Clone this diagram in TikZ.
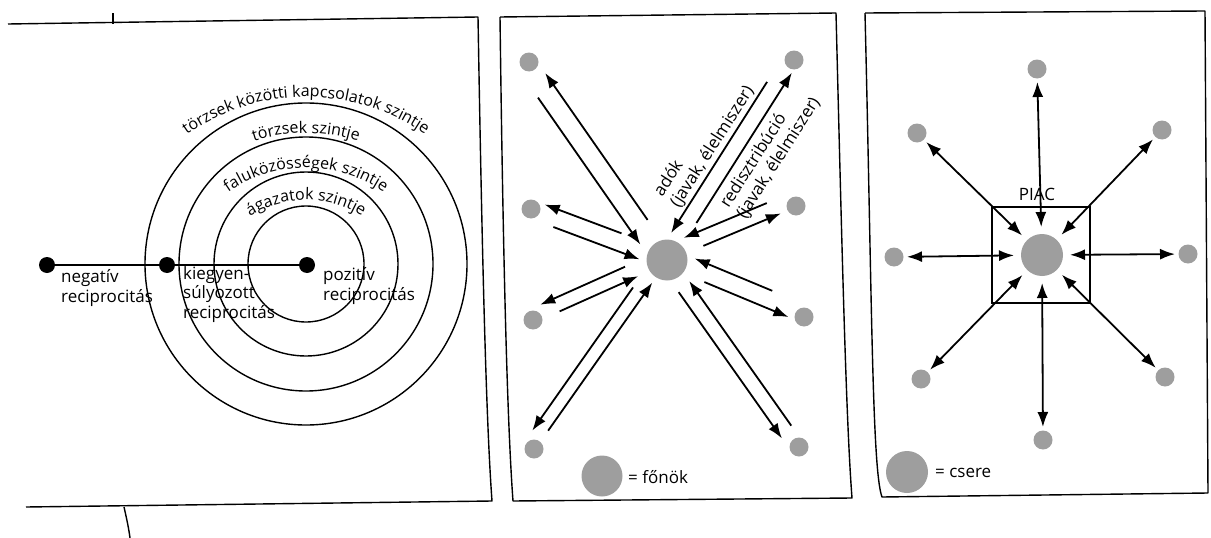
\documentclass[tikz,border=0pt]{standalone}
\usepackage{fontspec}
\setmainfont{Open Sans}
\usetikzlibrary{arrows.meta,calc,decorations.text}
\definecolor{dotgray}{gray}{0.62}
\newcommand\lblfont{\fontsize{17}{19.5}\selectfont}
\newcommand\arcfont{\fontsize{16}{19}\selectfont}
\begin{document}
\begin{tikzpicture}[x=1pt,y=-1pt,
  panel/.style={line width=1.4pt, line join=round},
  ringline/.style={line width=1.4pt},
  blackdot/.style={circle, fill=black, inner sep=0pt, minimum size=16pt},
  sdot/.style={circle, fill=dotgray, inner sep=0pt, minimum size=19pt},
  chiefdot/.style={circle, fill=dotgray, inner sep=0pt, minimum size=41pt},
  arr/.style={line width=1.8pt, -{Latex[length=15pt,width=11pt]}},
  darr/.style={line width=1.8pt, {Latex[length=15pt,width=11pt]}-{Latex[length=15pt,width=11pt]}},
  lbl/.style={font=\lblfont, inner sep=0pt, align=left},
  arctext/.style={decorate, decoration={text along path, text align=center, text={|\arcfont|#1}}},
]
\useasboundingbox (0,0) rectangle (1211,538);

% ---------------- left panel ----------------
\draw[panel] (8,24) -- (478,17) .. controls (482,250) and (486,420) .. (492,501) -- (26,507);
\draw[panel] (113,13) -- (113,24);
\draw[panel] (124,507) .. controls (127,520) and (129,530) .. (130,538);

\coordinate (ctr) at (306,264);
\coordinate (tctr) at (306,304);
\foreach \r in {58,92,127,161} \draw[ringline] (ctr) circle[radius=\r pt];

\path[arctext={ágazatok szintje}] ($(tctr)+(170:104pt)$) arc[start angle=170, end angle=10, radius=104pt];
\path[arctext={faluközösségek szintje}] ($(tctr)+(170:136pt)$) arc[start angle=170, end angle=10, radius=136pt];
\path[arctext={törzsek szintje}] ($(tctr)+(170:171pt)$) arc[start angle=170, end angle=10, radius=171pt];
\path[arctext={törzsek közötti kapcsolatok szintje}] ($(tctr)+(170:207pt)$) arc[start angle=170, end angle=10, radius=207pt];

\node[blackdot] (neg) at (47,265) {};
\node[blackdot] (bal) at (167,265) {};
\node[blackdot] (pos) at (307,265) {};
\draw[line width=1.9pt] (neg) -- (bal) -- (pos);

\node[lbl, anchor=base west] (negl) at (61,302) {negatív\\reciprocitás};
\node[lbl, anchor=base west] (ball) at (183,318) {kiegyen-\\súlyozott\\reciprocitás};
\node[lbl, anchor=base west] (posl) at (323,300) {pozitív\\reciprocitás};

% ---------------- middle panel ----------------
\draw[panel] (500,17) -- (836,13) .. controls (842,250) and (846,420) .. (852,498) -- (513,501) .. controls (507,420) and (503,250) .. (500,17);

\node[chiefdot] (chief) at (667,260) {};
\node[sdot] (tl) at (529,62) {};
\node[sdot] (tr) at (794,60) {};
\node[sdot] (ml) at (531,209) {};
\node[sdot] (mr) at (796,206) {};
\node[sdot] (ll) at (533,320) {};
\node[sdot] (lr) at (804,317) {};
\node[sdot] (bl) at (534,449) {};
\node[sdot] (br) at (799,447) {};

% top-left
\draw[arr] ($(chief)!44pt!(tl)!7pt!270:(tl)$) -- ($(chief)!223pt!(tl)!7pt!270:(tl)$);
\draw[arr] ($(chief)!207pt!(tl)!13pt!90:(tl)$) -- ($(chief)!28pt!(tl)!13pt!90:(tl)$);
% top-right
\draw[arr] ($(chief)!204pt!(tr)!11pt!90:(tr)$) -- ($(chief)!25pt!(tr)!11pt!90:(tr)$);
\draw[arr] ($(chief)!47pt!(tr)!5pt!270:(tr)$) -- ($(chief)!225pt!(tr)!5pt!270:(tr)$);
% mid-left
\draw[arr] ($(chief)!52pt!(ml)!9pt!270:(ml)$) -- ($(chief)!134pt!(ml)!9pt!270:(ml)$);
\draw[arr] ($(chief)!118pt!(ml)!9pt!90:(ml)$) -- ($(chief)!26pt!(ml)!9pt!90:(ml)$);
% mid-right
\draw[arr] ($(chief)!114pt!(mr)!14pt!90:(mr)$) -- ($(chief)!24pt!(mr)!14pt!90:(mr)$);
\draw[arr] ($(chief)!39pt!(mr)!1pt!270:(mr)$) -- ($(chief)!123pt!(mr)!1pt!270:(mr)$);
% low-left
\draw[arr] ($(chief)!41pt!(ll)!11pt!270:(ll)$) -- ($(chief)!134pt!(ll)!11pt!270:(ll)$);
\draw[arr] ($(chief)!119pt!(ll)!3pt!90:(ll)$) -- ($(chief)!33pt!(ll)!3pt!90:(ll)$);
% low-right
\draw[arr] ($(chief)!109pt!(lr)!12pt!90:(lr)$) -- ($(chief)!25pt!(lr)!12pt!90:(lr)$);
\draw[arr] ($(chief)!43pt!(lr)!6pt!270:(lr)$) -- ($(chief)!134pt!(lr)!6pt!270:(lr)$);
% bottom-left
\draw[arr] ($(chief)!42pt!(bl)!12pt!270:(bl)$) -- ($(chief)!217pt!(bl)!12pt!270:(bl)$);
\draw[arr] ($(chief)!208pt!(bl)!1pt!90:(bl)$) -- ($(chief)!27pt!(bl)!1pt!90:(bl)$);
% bottom-right
\draw[arr] ($(chief)!33pt!(br)!9pt!270:(br)$) -- ($(chief)!212pt!(br)!9pt!270:(br)$);
\draw[arr] ($(chief)!207pt!(br)!6pt!90:(br)$) -- ($(chief)!30pt!(br)!6pt!90:(br)$);

\node[lbl, rotate=57.4, anchor=west] (adok) at ($(chief)!50pt!(tr)!32pt!90:(tr)$) {adók\\(javak, élelmiszer)};
\node[lbl, rotate=57.4, anchor=west] (redis) at ($(chief)!76pt!(tr)!30pt!270:(tr)$) {redisztribúció\\(javak, élelmiszer)};

\node[chiefdot] (leg1) at (602,476) {};
\node[lbl, anchor=west] (leg1t) at (628,477) {= főnök};

% ---------------- right panel ----------------
\draw[panel] (865,13) -- (1205,11) -- (1208,493) -- (882,497) .. controls (872,470) and (872,300) .. (865,13);

\node[draw, line width=1.4pt, minimum width=98pt, minimum height=96pt, inner sep=0pt] (sq) at (1041,255) {};
\node[chiefdot, minimum size=42pt] (mkt) at (1042,255) {};
\node[lbl] (piac) at (1037,194) {PIAC};

\node[sdot] (p1) at (1037,69) {};
\node[sdot] (p2) at (1162,130) {};
\node[sdot] (p3) at (1188,254) {};
\node[sdot] (p4) at (1165,377) {};
\node[sdot] (p5) at (1043,440) {};
\node[sdot] (p6) at (921,379) {};
\node[sdot] (p7) at (894,257) {};
\node[sdot] (p8) at (917,133) {};
\foreach \n in {p1,p2,p3,p4,p5,p6,p7,p8}
  \draw[darr] ($(mkt)!28pt!(\n)$) -- ($(\n)!13pt!(mkt)$);

\node[chiefdot, minimum size=42pt] (leg2) at (907,472) {};
\node[lbl, anchor=west] (leg2t) at (935,473) {= csere};
\end{tikzpicture}
\end{document}
